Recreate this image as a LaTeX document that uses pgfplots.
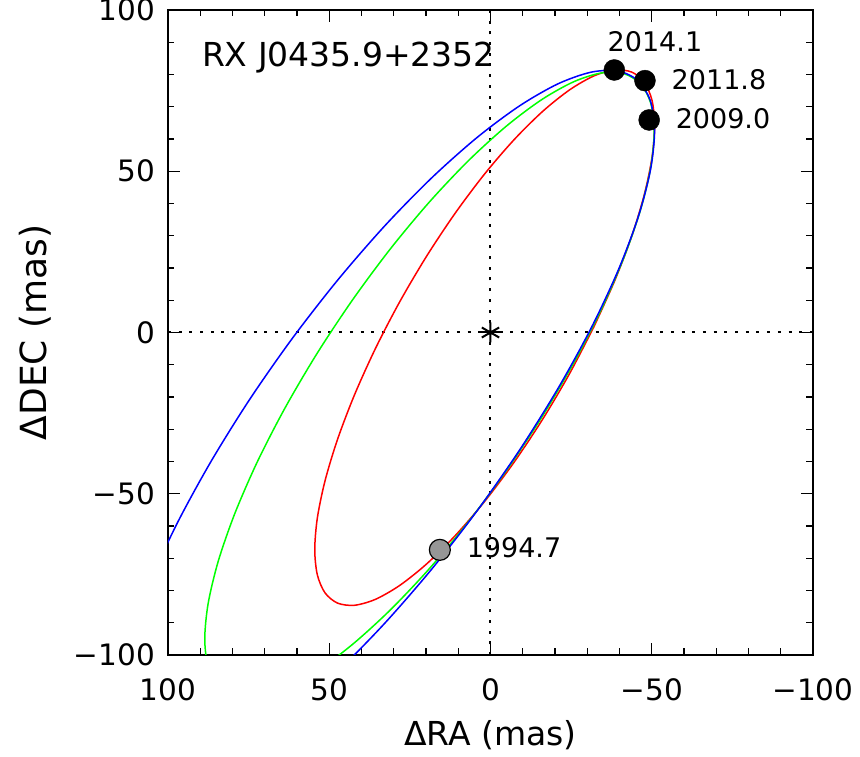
\documentclass[border=0pt]{standalone}
\usepackage{pgfplots}
\pgfplotsset{compat=1.18}
\usepackage{fontspec}
\setmainfont{DejaVu Sans}
\definecolor{dotgray}{RGB}{150,150,150}
\definecolor{pred}{RGB}{255,0,0}
\definecolor{pgreen}{RGB}{0,255,0}
\definecolor{pblue}{RGB}{0,0,255}
\begin{document}
\begin{tikzpicture}
\path[use as bounding box] (0,0) rectangle (860pt,757pt);
\begin{axis}[
  at={(168pt,102pt)}, anchor=south west,
  width=645pt, height=645pt, scale only axis,
  xmin=-100, xmax=100, ymin=-100, ymax=100,
  x dir=reverse,
  xtick={-100,-50,0,50,100}, xticklabels={−100,−50,0,50,100},
  ytick={-100,-50,0,50,100}, yticklabels={−100,−50,0,50,100},
  minor tick num=4,
  tick align=inside,
  major tick length=12pt, minor tick length=6.5pt,
  every tick/.style={black, line width=1.3pt},
  axis line style={black, line width=1.3pt},
  tick label style={font=\fontsize{29.5}{34}\selectfont},
  xticklabel style={anchor=center, yshift=-35pt},
  yticklabel style={anchor=east, inner sep=0pt, xshift=-13pt},
  xlabel={ΔRA (mas)}, ylabel={ΔDEC (mas)},
  xlabel style={font=\fontsize{33}{38}\selectfont, at={(axis description cs:0.5,-0.124)}, anchor=center},
  ylabel style={font=\fontsize{36}{40}\selectfont, at={(axis description cs:-0.206,0.5)}, anchor=center},
  clip=true,
]
% zero lines
\addplot[black, line width=2pt, dash pattern=on 3pt off 7.7pt] coordinates {(0,-100) (0,100)};
\addplot[black, line width=2pt, dash pattern=on 3pt off 7.7pt] coordinates {(100,0) (-100,0)};
% red orbit
\addplot[pred, line width=1.5pt, smooth] coordinates {
(-32.07,1.78) (-24.55,-12.69) (-16.22,-26.82) (-7.35,-40.17) (1.80,-52.36)
(10.95,-63.00) (19.82,-71.78) (28.15,-78.43) (35.67,-82.74) (42.16,-84.58)
(47.43,-83.91) (51.31,-80.73) (53.69,-75.15) (54.49,-67.33) (53.69,-57.52)
(51.31,-46.00) (47.43,-33.14) (42.16,-19.32) (35.67,-4.96) (28.15,9.51)
(19.82,23.64) (10.95,36.99) (1.80,49.18) (-7.35,59.82) (-16.22,68.60)
(-24.55,75.25) (-32.07,79.56) (-38.56,81.40) (-43.83,80.73) (-47.71,77.55)
(-50.09,71.97) (-50.89,64.15) (-50.09,54.34) (-47.71,42.82) (-43.83,29.96)
(-38.56,16.14) (-32.07,1.78)
};
% green orbit
\addplot[pgreen, line width=1.5pt, smooth] coordinates {
(63.71,-110.48) (72.30,-113.18) (79.26,-112.93) (84.40,-109.74) (87.54,-103.72)
(88.60,-95.05) (87.54,-83.98) (84.40,-70.86) (79.26,-56.09) (72.30,-40.10)
(63.71,-23.40) (53.76,-6.47) (42.75,10.14) (31.02,25.96) (18.92,40.49)
(6.82,53.29) (-4.91,63.98) (-15.92,72.23) (-25.87,77.78) (-34.46,80.48)
(-41.42,80.23) (-46.56,77.04) (-49.70,71.02) (-50.76,62.35) (-49.70,51.28)
(-46.56,38.16) (-41.42,23.39) (-34.46,7.40) (-25.87,-9.30) (-15.92,-26.23)
(-4.91,-42.84) (6.82,-58.66) (18.92,-73.19) (31.02,-85.99) (42.75,-96.68)
(53.76,-104.93) (63.71,-110.48)
};
% blue orbit
\addplot[pblue, line width=1.5pt, smooth] coordinates {
(74.64,-127.41) (86.58,-134.25) (96.90,-137.86) (105.26,-138.17) (111.42,-135.13)
(115.20,-128.87) (116.47,-119.55) (115.20,-107.47) (111.42,-92.99) (105.26,-76.55)
(96.90,-58.66) (86.58,-39.85) (74.64,-20.70) (61.42,-1.79) (47.33,16.31)
(32.80,33.05) (18.27,47.91) (4.18,60.45) (-9.04,70.29) (-20.98,77.13)
(-31.30,80.74) (-39.66,81.05) (-45.82,78.01) (-49.60,71.75) (-50.87,62.43)
(-49.60,50.35) (-45.82,35.87) (-39.66,19.43) (-31.30,1.54) (-20.98,-17.27)
(-9.04,-36.42) (4.18,-55.33) (18.27,-73.43) (32.80,-90.17) (47.33,-105.03)
(61.42,-117.57) (74.64,-127.41)
};
% observations
\addplot[only marks, mark=*, mark size=10.5pt, mark options={fill=black, draw=black}] coordinates {(-38.4,81.4) (-47.9,78.1) (-49.2,65.9)};
\addplot[only marks, mark=*, mark size=10.5pt, mark options={fill=dotgray, draw=black, line width=1.2pt}] coordinates {(15.7,-67.4)};
% primary star
\addplot[only marks, mark=asterisk, mark size=10pt, mark options={black, line width=2pt}] coordinates {(0,0)};
\addplot[only marks, mark=-, mark size=10pt, mark options={black, line width=2pt}] coordinates {(0,0)};
% labels
\node[font=\fontsize{27}{32}\selectfont] at (axis cs:-51.0,90.1) {2014.1};
\node[font=\fontsize{27}{32}\selectfont] at (axis cs:-70.85,78.3) {2011.8};
\node[font=\fontsize{27}{32}\selectfont] at (axis cs:-72.1,66.2) {2009.0};
\node[font=\fontsize{27}{32}\selectfont] at (axis cs:-7.3,-66.8) {1994.7};
\node[anchor=west, inner sep=0pt, font=\fontsize{33}{38}\selectfont] at (axis cs:89.5,85.4) {RX J0435.9+2352};
\end{axis}
\end{tikzpicture}
\end{document}
